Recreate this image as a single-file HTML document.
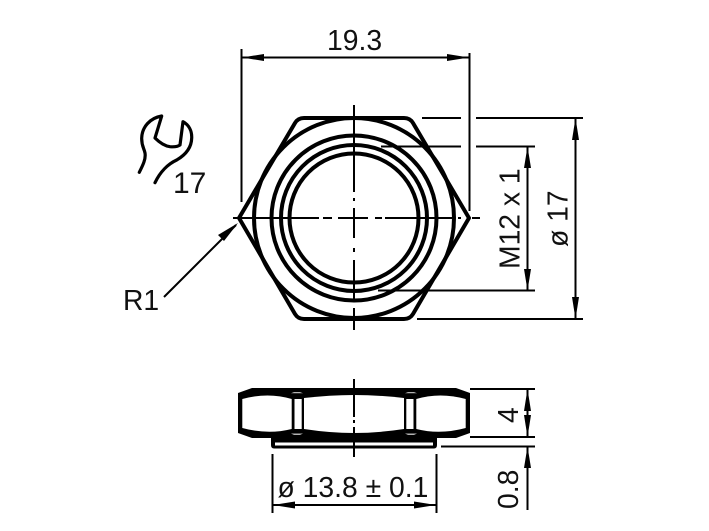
<!DOCTYPE html>
<html>
<head>
<meta charset="utf-8">
<style>
html,body{margin:0;padding:0;background:#fff;width:709px;height:531px;overflow:hidden}
svg{display:block}
text{font-family:"Liberation Sans",sans-serif;font-size:28.300px;fill:#111}
</style>
</head>
<body>
<svg width="709" height="531" viewBox="0 0 709 531" xmlns="http://www.w3.org/2000/svg">
<rect width="709" height="531" fill="#fff"/>

<!-- Top view -->
<g fill="none" stroke="#000" stroke-width="4" stroke-linejoin="round">
  <path d="M304 118 H404 Q410 118 413 123 L469 218 L413 314 Q410 319 404 319 H304 Q298 319 295 314 L239 218 L295 123 Q298 118 304 118 Z"/>
  <circle cx="354" cy="218" r="100"/>
  <circle cx="354" cy="218" r="82.500"/>
  <circle cx="354" cy="218" r="73"/>
  <circle cx="354" cy="218" r="64.500"/>
</g>

<!-- Center lines -->
<g stroke="#000" stroke-width="2" fill="none">
  <path d="M354 105 V192 M354 198 V201 M354 208 V238 M354 248 V252 M354 260 V300 M354 308 V330"/>
  <path d="M233 218 H319 M323 218 H332 M338 218 H368 M375 218 H382 M385 218 H453 M458 218 H461 M472 218 H480"/>
</g>

<!-- Dimension lines -->
<g stroke="#000" stroke-width="2" fill="none">
  <path d="M241.500 49 V202 M469.500 53 V211"/>
  <path d="M242 57.500 H469"/>
  <path d="M422 118 H461 M476 118 H583 M417 319 H583"/>
  <path d="M381 146.500 H461 M476 146.500 H535 M378 290.500 H535"/>
  <path d="M575.500 118 V319 M527.500 146.500 V290.500"/>
  <path d="M164 297 L236 225"/>
  <path d="M470 389 H535 M470 437 H535 M441 446.500 H535"/>
  <path d="M527.500 389 V437 M527.500 446.500 V510"/>
  <path d="M272.500 454 V513 M436.500 454 V513 M273 505 H436"/>
</g>

<!-- Arrowheads -->
<g fill="#000">
  <path d="M242 57.500 L264 54 V61 Z"/>
  <path d="M469 57.500 L447 54 V61 Z"/>
  <path d="M575.500 118 L572 140 H579 Z"/>
  <path d="M575.500 319 L572 297 H579 Z"/>
  <path d="M527.500 146.500 L524 168 H531 Z"/>
  <path d="M527.500 290.500 L524 269 H531 Z"/>
  <path d="M527.500 389 L524 411 H531 Z"/>
  <path d="M527.500 437 L524 415 H531 Z"/>
  <path d="M527.500 446.500 L524 468 H531 Z"/>
  <path d="M273 505 L295 501.500 V508.500 Z"/>
  <path d="M436 505 L414 501.500 V508.500 Z"/>
  <path d="M238 223 L218 235 L224 241 Z"/>
</g>

<!-- Side view -->
<path fill="#000" d="M238 393 L252 388 H456 L470 393 V433 L456 438 H252 L238 433 Z"/>
<g fill="#fff">
  <path d="M242.300 399 Q268 392 291.700 399 V429 Q268 435 242.300 428 Z"/>
  <rect x="294.500" y="399" width="7.200" height="30"/>
  <path d="M304 398 Q330 395 354 395 Q378 395 404 398 V429 Q378 433 354 433 Q330 433 304 429 Z"/>
  <rect x="406.300" y="399" width="7.200" height="30"/>
  <path d="M465.700 399 Q440 392 416.300 399 V429 Q440 435 465.700 428 Z"/>
</g>
<g fill="#fff" opacity=".7">
  <path d="M291 393.300 H303 L300 392 H294 Z"/>
  <path d="M405 393.300 H417 L414 392 H408 Z"/>
  <path d="M291 433.500 H303 L300 435 H294 Z"/>
  <path d="M405 433.500 H417 L414 435 H408 Z"/>
</g>
<path fill="#000" d="M271 437 H437 V445 Q437 448.500 434 448.500 H274 Q271 448.500 271 445 Z"/>
<rect x="275" y="442.500" width="158" height="3" fill="#fff"/>
<path d="M354 379 V417 M354 420 V423 M354 427 V457" stroke="#000" stroke-width="2" fill="none"/>

<!-- Wrench -->
<path fill="none" stroke="#000" stroke-width="3.200" stroke-linecap="round" stroke-linejoin="round"
 d="M139.300 172.300 C143 165 146 159 145 153 C144 148 141.500 146 141.700 138 C142 127 150 118 161.700 116 L155 138 C160 143 165 146 170 146.700 C174 147 178 146.500 180 145 L183 121.700 C189 125 192 131 191.700 138 C191.500 147 187 154 176.700 160 C168 164 160 172 155 182.700"/>

<!-- Labels -->
<text x="327" y="50">19.3</text>
<text x="173" y="193" style="font-size:30px">17</text>
<text x="123" y="310">R1</text>
<text x="277.500" y="497">ø 13.8 ± 0.1</text>
<text transform="translate(519.500 269) rotate(-90)">M12 x 1</text>
<text transform="translate(567.500 247) rotate(-90)">ø 17</text>
<text transform="translate(518 423) rotate(-90)">4</text>
<text transform="translate(518 509) rotate(-90)">0.8</text>
</svg>
</body>
</html>
